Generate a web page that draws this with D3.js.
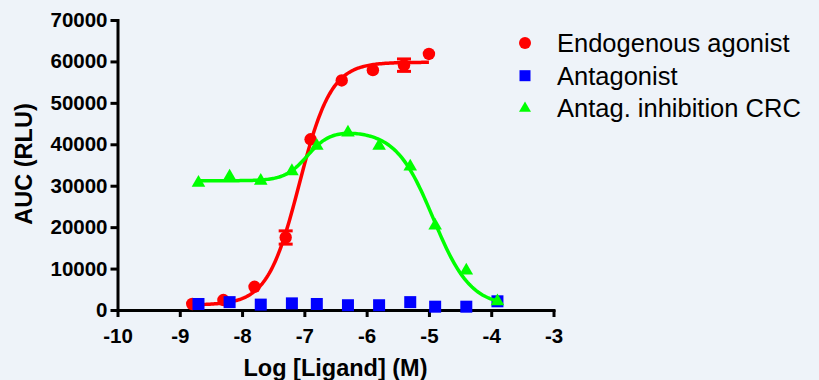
<!DOCTYPE html>
<html>
<head>
<meta charset="utf-8">
<script src="https://cdn.jsdelivr.net/npm/d3@7"></script>
<style>
  html, body { margin: 0; padding: 0; background: #eef3f9; }
  svg { display: block; }
  text { font-family: "Liberation Sans", Arial, Helvetica, sans-serif; }
</style>
</head>
<body>
<svg id="chart" width="819" height="380"></svg>
<script>
// Endogenous agonist (red circles), mean AUC with SEM
const agonistLogX = [-8.8, -8.3, -7.8, -7.3, -6.9, -6.4, -5.9, -5.4, -5.0];
const agonistAUC  = [1450, 2400, 5600, 17500, 41200, 55400, 57900, 59100, 61800];
const agonistSEM  = [0, 0, 0, 1600, 0, 0, 0, 1500, 0];

// Antagonist alone (blue squares)
const antagLogX = [-8.7, -8.2, -7.7, -7.2, -6.8, -6.3, -5.8, -5.3, -4.9, -4.4, -3.9];
const antagAUC  = [1450, 1900, 1300, 1600, 1450, 1150, 1150, 1900, 800, 800, 2100];

// Antagonist inhibition concentration-response (green triangles)
const crcLogX = [-8.7, -8.2, -7.7, -7.2, -6.8, -6.3, -5.8, -5.3, -4.9, -4.4, -3.9];
const crcAUC  = [30700, 32200, 31200, 33500, 39600, 42800, 39600, 34600, 20400, 9500, 2100];

// Fitted curve parameters
const agonistFit = { bottom: 1200, top: 59800, logEC50: -7.08, hill: 1.7, from: -8.8, to: -5.0 };
const crcFit = { base: 31200, rise: 12200, logEC50a: -6.95, hillA: 2.4,
                 fall: 42600, logEC50b: -4.93, hillB: 1.45, from: -8.7, to: -3.9 };

const xTicks = [-10, -9, -8, -7, -6, -5, -4, -3];
const yTicks = [0, 10000, 20000, 30000, 40000, 50000, 60000, 70000];

const legendLabels = ["Endogenous agonist", "Antagonist", "Antag. inhibition CRC"];
const colors = { agonist: "#ff0000", antag: "#0000ff", crc: "#00ff00" };

const svg = d3.select("#chart");
svg.append("rect").attr("width", 819).attr("height", 380).attr("fill", "#eef3f9");

const x = d3.scaleLinear().domain([-10, -3]).range([117.5, 553.5]);
const y = d3.scaleLinear().domain([0, 70000]).range([310, 20]);

// Axes
const yAxis = d3.axisLeft(y).tickValues(yTicks).tickFormat(d3.format("d"))
  .tickSize(7).tickSizeOuter(0).tickPadding(3);
const xAxis = d3.axisBottom(x).tickValues(xTicks).tickFormat(d => d3.format("d")(d).replace("−", "-"))
  .tickSize(7).tickSizeOuter(0).tickPadding(11);

const gy = svg.append("g").attr("transform", `translate(${x(-10)},0)`).call(yAxis);
const gx = svg.append("g").attr("transform", `translate(0,${y(0)})`).call(xAxis);
[gx, gy].forEach(g => {
  g.select(".domain").attr("stroke", "#000").attr("stroke-width", 3).attr("stroke-linecap", "square");
  g.selectAll(".tick line").attr("stroke", "#000").attr("stroke-width", 3);
  g.selectAll(".tick text").attr("fill", "#000")
    .style("font-size", "20.5px").style("font-weight", "bold")
    .style("font-family", '"Liberation Sans", Arial, sans-serif');
});

// Axis titles
svg.append("text")
  .attr("x", (x(-10) + x(-3)) / 2).attr("y", 376)
  .attr("text-anchor", "middle")
  .style("font-size", "23.5px").style("font-weight", "bold")
  .text("Log [Ligand] (M)");
svg.append("text")
  .attr("transform", "translate(32,164) rotate(-90)")
  .attr("text-anchor", "middle")
  .style("font-size", "23.5px").style("font-weight", "bold")
  .text("AUC (RLU)");

// Curves
const line = d3.line().x(d => x(d[0])).y(d => y(d[1]));
const samples = (a, b) => d3.range(0, 201).map(i => a + (b - a) * i / 200);

const agonistModel = v => agonistFit.bottom +
  (agonistFit.top - agonistFit.bottom) / (1 + Math.pow(10, (agonistFit.logEC50 - v) * agonistFit.hill));
const crcModel = v => crcFit.base +
  crcFit.rise / (1 + Math.pow(10, (crcFit.logEC50a - v) * crcFit.hillA)) -
  crcFit.fall / (1 + Math.pow(10, (crcFit.logEC50b - v) * crcFit.hillB));

// Agonist layer
svg.append("path")
  .datum(samples(agonistFit.from, agonistFit.to).map(v => [v, agonistModel(v)]))
  .attr("d", line).attr("fill", "none").attr("stroke", colors.agonist).attr("stroke-width", 3.5);

const agonistData = agonistLogX.map((v, i) => ({ x: v, y: agonistAUC[i], e: agonistSEM[i] }));
const errG = svg.append("g").attr("stroke", colors.agonist).attr("stroke-width", 3);
agonistData.filter(d => d.e > 0).forEach(d => {
  const cx = x(d.x), cap = 7;
  errG.append("line").attr("x1", cx).attr("x2", cx).attr("y1", y(d.y + d.e)).attr("y2", y(d.y - d.e));
  errG.append("line").attr("x1", cx - cap).attr("x2", cx + cap).attr("y1", y(d.y + d.e)).attr("y2", y(d.y + d.e));
  errG.append("line").attr("x1", cx - cap).attr("x2", cx + cap).attr("y1", y(d.y - d.e)).attr("y2", y(d.y - d.e));
});
svg.append("g").selectAll("circle").data(agonistData).join("circle")
  .attr("cx", d => x(d.x)).attr("cy", d => y(d.y)).attr("r", 6.2).attr("fill", colors.agonist);

// Antagonist layer
const sq = 12;
svg.append("g").selectAll("rect").data(antagLogX.map((v, i) => ({ x: v, y: antagAUC[i] }))).join("rect")
  .attr("x", d => x(d.x) - sq / 2).attr("y", d => y(d.y) - sq / 2)
  .attr("width", sq).attr("height", sq).attr("fill", colors.antag);

// Inhibition CRC layer
svg.append("path")
  .datum(samples(crcFit.from, crcFit.to).map(v => [v, crcModel(v)]))
  .attr("d", line).attr("fill", "none").attr("stroke", colors.crc).attr("stroke-width", 3.5);
const tri = d3.symbol().type(d3.symbolTriangle).size(80);
svg.append("g").selectAll("path").data(crcLogX.map((v, i) => ({ x: v, y: crcAUC[i] }))).join("path")
  .attr("d", tri).attr("transform", d => `translate(${x(d.x)},${y(d.y)})`).attr("fill", colors.crc);

// Legend
const legend = svg.append("g").attr("transform", "translate(525,43)");
const rowH = 32.7;
legend.append("circle").attr("cx", 0).attr("cy", 0).attr("r", 6).attr("fill", colors.agonist);
legend.append("rect").attr("x", -5.5).attr("y", rowH - 5.5).attr("width", 11).attr("height", 11).attr("fill", colors.antag);
legend.append("path").attr("d", d3.symbol().type(d3.symbolTriangle).size(62)())
  .attr("transform", `translate(0,${2 * rowH})`).attr("fill", colors.crc);
legend.selectAll("text.lbl").data(legendLabels).join("text").attr("class", "lbl")
  .attr("x", 32).attr("y", (d, i) => i * rowH + 9)
  .style("font-size", "25.5px").attr("fill", "#000")
  .text(d => d);
</script>
</body>
</html>
